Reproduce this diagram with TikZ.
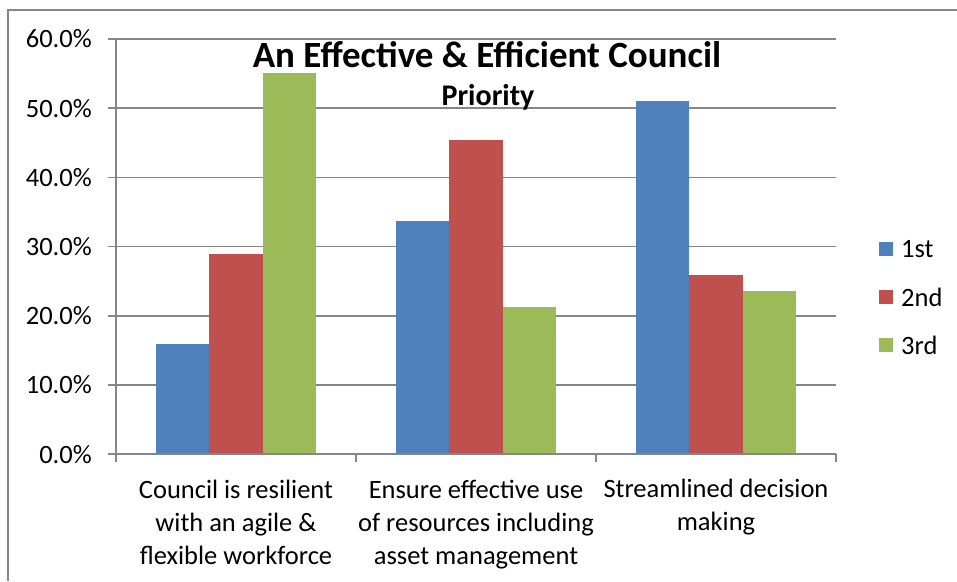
\documentclass[tikz,border=0pt]{standalone}
\usepackage[dvipsnames]{xcolor}
\usepackage{fontspec}
\setmainfont{Carlito}
\usepackage{tikz}

\definecolor{firstblue}{HTML}{4F81BD}
\definecolor{secondred}{HTML}{C0504D}
\definecolor{thirdgreen}{HTML}{9BBB59}
\definecolor{gridgray}{HTML}{868686}

\tikzset{
    gridline/.style={gridgray, line width=1.6pt},
    ylabel/.style={anchor=east, inner sep=0pt, font=\fontsize{26.5}{32}\selectfont},
    catlabel/.style={align=center, inner sep=0pt, font=\fontsize{26.5}{33}\selectfont},
    legtext/.style={anchor=west, inner sep=0pt, font=\fontsize{26.5}{32}\selectfont}
}

\begin{document}
\begin{tikzpicture}[x=1pt, y=-1pt]
            \useasboundingbox (0,0) rectangle (957,581);
            % outer frame
            \draw[gridgray, line width=2pt] (8,581) -- (8,10) -- (957,10);
            % gridlines and value axis
            \draw[gridline] (108, 39.0) -- (836, 39.0);
            \draw[gridline] (108,108.2) -- (836,108.2);
            \draw[gridline] (108,177.4) -- (836,177.4);
            \draw[gridline] (108,246.6) -- (836,246.6);
            \draw[gridline] (108,315.8) -- (836,315.8);
            \draw[gridline] (108,385.0) -- (836,385.0);
            \node[ylabel] (y60) at (92, 39.0) {60.0\%};
            \node[ylabel] (y50) at (92,108.2) {50.0\%};
            \node[ylabel] (y40) at (92,177.4) {40.0\%};
            \node[ylabel] (y30) at (92,246.6) {30.0\%};
            \node[ylabel] (y20) at (92,315.8) {20.0\%};
            \node[ylabel] (y10) at (92,385.0) {10.0\%};
            \node[ylabel] (y0)  at (92,454.2) {0.0\%};
            % bars
            \fill[firstblue]  (156,454.2) rectangle (209,343.5);
            \fill[secondred]  (209,454.2) rectangle (263,253.5);
            \fill[thirdgreen] (263,454.2) rectangle (316, 73.0);
            \fill[firstblue]  (396,454.2) rectangle (449,221.0);
            \fill[secondred]  (449,454.2) rectangle (503,140.0);
            \fill[thirdgreen] (503,454.2) rectangle (556,307.0);
            \fill[firstblue]  (636,454.2) rectangle (689,101.0);
            \fill[secondred]  (689,454.2) rectangle (743,275.0);
            \fill[thirdgreen] (743,454.2) rectangle (796,291.0);
            % category axis
            \draw[gridline] (116,39) -- (116,462);
            \draw[gridline] (108,454.2) -- (836,454.2);
            \draw[gridline] (356,454.2) -- (356,462);
            \draw[gridline] (596,454.2) -- (596,462);
            \draw[gridline] (836,454.2) -- (836,462);
            \node[catlabel, anchor=north] (cat1) at (236,480) {Council is resilient\\with an agile \&\\flexible workforce};
            \node[catlabel, anchor=north] (cat2) at (476,480) {Ensure effective use\\of resources including\\asset management};
            \node[catlabel, anchor=north] (cat3) at (716,479) {Streamlined decision\\making};
            % title
            \node[font=\fontsize{37}{44}\selectfont\bfseries, inner sep=0pt] (title) at (487,55) {An Effective \& Efficient Council};
            \node[font=\fontsize{30}{36}\selectfont\bfseries, inner sep=0pt] (prio) at (488,97) {Priority};
            % legend
            \fill[firstblue]  (879,242) rectangle (893,256);
            \fill[secondred]  (879,290) rectangle (893,304);
            \fill[thirdgreen] (879,338) rectangle (893,352);
            \node[legtext] (leg1) at (901,249) {1st};
            \node[legtext] (leg2) at (901,297) {2nd};
            \node[legtext] (leg3) at (901,345) {3rd};
        \end{tikzpicture}
\end{document}
